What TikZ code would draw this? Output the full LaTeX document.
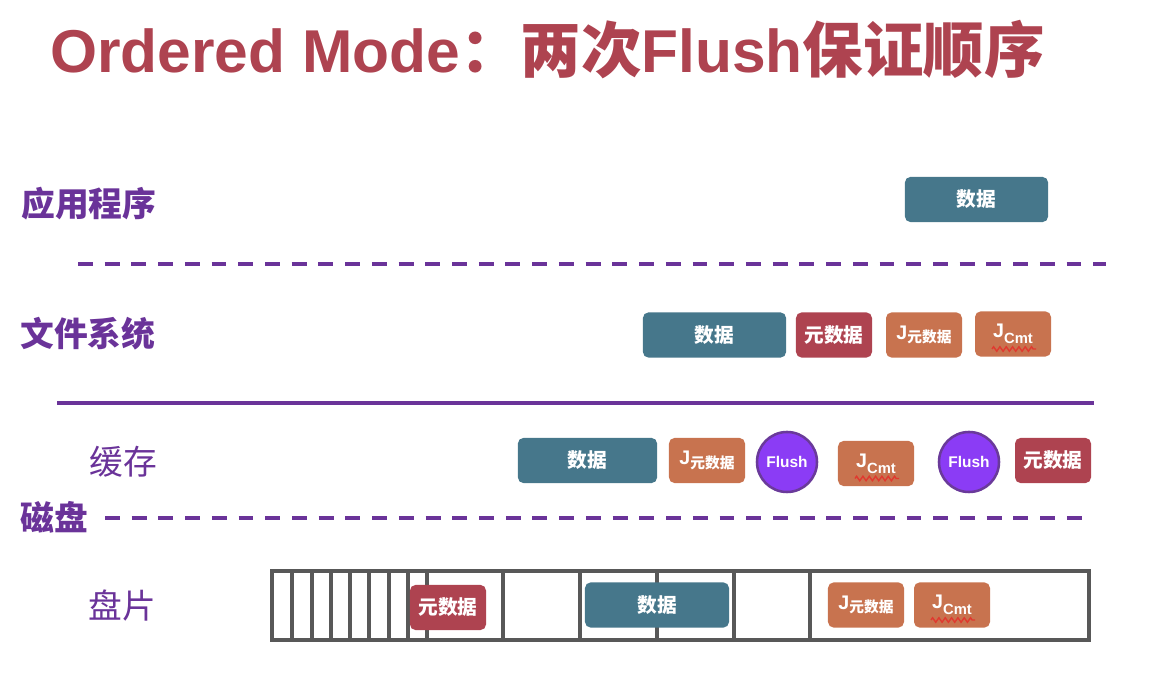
\documentclass[tikz,border=0pt]{standalone}
\usepackage{fontspec}
\setmainfont{Liberation Sans}
\newfontfamily\cjk{Noto Sans CJK SC}
\usetikzlibrary{calc, decorations.pathmorphing}

\definecolor{TitleRed}{HTML}{AE4350}
\definecolor{LayerPurple}{HTML}{6A3399}
\definecolor{DataTeal}{HTML}{46778B}
\definecolor{MetaRed}{HTML}{AE4350}
\definecolor{JournalOrange}{HTML}{C8734F}
\definecolor{FlushViolet}{HTML}{8B3CF5}
\definecolor{FlushRim}{HTML}{6A3A9A}
\definecolor{DiskGray}{HTML}{585858}
\definecolor{SpellRed}{HTML}{E0392F}

\newcommand\jmeta{{\fontsize{14}{16}\selectfont J}\raisebox{-2.5pt}{\cjk\fontsize{10.5}{12}\selectfont 元数据}}
\newcommand\jcmt{{\fontsize{14}{16}\selectfont J}\raisebox{-4.5pt}{\fontsize{10.5}{12}\selectfont Cmt}}

\tikzset{
  layer/.style = {anchor=west, text=LayerPurple, inner sep=0pt, font=\cjk\bfseries\fontsize{24}{28}\selectfont},
  sublayer/.style = {anchor=west, text=LayerPurple, inner sep=0pt, font=\cjk\fontsize{24}{28}\selectfont},
  block/.style = {rounded corners=4pt, minimum height=1.13cm, inner sep=0pt, text=white, font=\bfseries\cjk\fontsize{14}{16}\selectfont},
  datablock/.style = {block, fill=DataTeal, minimum width=3.58cm},
  metablock/.style = {block, fill=MetaRed, minimum width=1.9cm},
  jblock/.style = {block, fill=JournalOrange, minimum width=1.9cm, font=\bfseries},
  flush/.style = {circle, fill=FlushViolet, draw=FlushRim, line width=1.8pt, minimum size=1.5cm, inner sep=0pt, text=white, font=\bfseries\fontsize{11}{13}\selectfont},
  border/.style = {LayerPurple, line width=2.8pt, dash pattern=on 10.6pt off 8.4pt},
  squiggly/.style = {SpellRed, line width=1pt, decorate, decoration={zigzag, segment length=4.5pt, amplitude=1.6pt}},
}

\begin{document}
\begin{tikzpicture}[x=0.025cm, y=-0.025cm]
\useasboundingbox (0,0) rectangle (1158,674);

\node[anchor=base west, inner sep=0pt, text=TitleRed, font=\bfseries\fontsize{43}{50}\selectfont] (title) at (50,73)
  {Ordered Mode{\cjk ：两次}Flush{\cjk 保证顺序}};

% layers
\node[layer] (app) at (21,204) {应用程序};
\node[layer] (fs) at (20,334) {文件系统};
\node[sublayer] (cache) at (89,462) {缓存};
\node[layer] (disk) at (20,517) {磁盘};
\node[sublayer] (platter) at (88,606) {盘片};

\draw[border] (78,264) -- (1106,264);
\draw[LayerPurple, line width=2.2pt] (57,403) -- (1094,403);
\draw[border] (105,518) -- (1082,518);

% application
\node[datablock] (appdata) at (976.5,199.5) {数据};

% file system
\node[datablock] (fsdata) at (714.5,335) {数据};
\node[metablock] (fsmeta) at (834,335) {元数据};
\node[jblock] (fsjm) at (924,335) {\jmeta};
\node[jblock] (fsjc) at (1013,334) {\jcmt};

% cache
\node[datablock, minimum width=3.48cm] (cachedata) at (587.5,460.5) {数据};
\node[jblock] (cachejm) at (707,460.5) {\jmeta};
\node[flush] (flushA) at (787,462) {Flush};
\node[jblock] (cachejc) at (876,463.5) {\jcmt};
\node[flush] (flushB) at (969,462) {Flush};
\node[metablock] (cachemeta) at (1053,460.5) {元数据};

% platter
\draw[DiskGray, line width=2.3pt] (272,571) rectangle (1089,640);
\foreach \x in {292,312,331,350,369,389,408,427,503,580,657,734,810}
  \draw[DiskGray, line width=2.3pt] (\x,571) -- (\x,640);

\node[metablock] (diskmeta) at (448,607.5) {元数据};
\node[datablock, minimum width=3.6cm] (diskdata) at (657,605) {数据};
\node[jblock] (diskjm) at (866,605) {\jmeta};
\node[jblock] (diskjc) at (952,605) {\jcmt};

\draw[squiggly] ($(fsjc.center)+(-21,15)$) -- ($(fsjc.center)+(23,15)$);
\draw[squiggly] ($(cachejc.center)+(-21,15)$) -- ($(cachejc.center)+(23,15)$);
\draw[squiggly] ($(diskjc.center)+(-21,15)$) -- ($(diskjc.center)+(23,15)$);

\end{tikzpicture}
\end{document}
